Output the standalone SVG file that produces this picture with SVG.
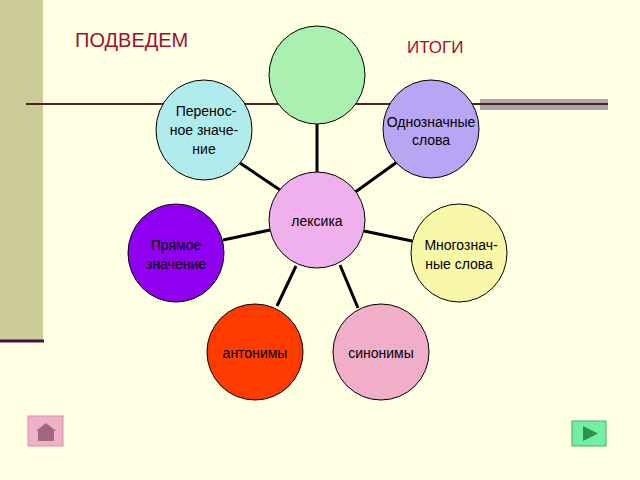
<svg xmlns="http://www.w3.org/2000/svg" width="640" height="480" viewBox="0 0 640 480">
<style>
.n{stroke:#000;stroke-width:1}
.t{font-family:"Liberation Sans",Arial,sans-serif;font-size:14px;fill:#000;text-anchor:middle}
.c line{stroke:#000;stroke-width:3}
</style>
<rect width="640" height="480" fill="#ffffe4"/>
<rect x="0" y="0" width="43" height="340" fill="#cccc99"/>
<line x1="0" y1="341" x2="44" y2="341" stroke="#4a1040" stroke-width="3"/>
<rect x="480" y="99" width="128" height="11" fill="#a8a8a8"/>
<line x1="26" y1="104" x2="608" y2="104" stroke="#5a1a2a" stroke-width="2"/>
<text x="75" y="47" font-family="Liberation Sans,Arial,sans-serif" font-size="20" fill="#a01030">ПОДВЕДЕМ</text>
<text x="407" y="53" font-family="Liberation Sans,Arial,sans-serif" font-size="17" fill="#a01030">ИТОГИ</text>
<g class="c">
<line x1="317" y1="124" x2="317" y2="173"/>
<line x1="240" y1="163" x2="283" y2="192"/>
<line x1="397" y1="162" x2="354" y2="193"/>
<line x1="223" y1="240" x2="270" y2="230"/>
<line x1="412" y1="241" x2="364" y2="231"/>
<line x1="277" y1="306" x2="296" y2="266"/>
<line x1="358" y1="308" x2="340" y2="265"/>
</g>
<g id="top"><ellipse class="n" cx="317" cy="75" rx="48" ry="49" fill="#aaf0b0"/></g>
<g id="perenos"><ellipse class="n" cx="204" cy="130" rx="48" ry="50" fill="#b0ecec"/>
<text class="t" x="206" y="116">Перенос-</text><text class="t" x="204" y="135">ное значе-</text><text class="t" x="204" y="154">ние</text></g>
<g id="odno"><ellipse class="n" cx="431" cy="129" rx="48" ry="49" fill="#b8a6f4"/>
<text class="t" x="431" y="127">Однозначные</text><text class="t" x="431" y="145">слова</text></g>
<g id="leks"><ellipse class="n" cx="317" cy="220" rx="48" ry="48" fill="#f0b0ee"/>
<text class="t" x="317" y="226">лексика</text></g>
<g id="pryam"><ellipse class="n" cx="176" cy="253" rx="48" ry="49" fill="#9000f0"/>
<text class="t" x="176" y="250">Прямое</text><text class="t" x="176" y="269">значение</text></g>
<g id="mnogo"><ellipse class="n" cx="459" cy="253" rx="48" ry="49" fill="#f8f8a8"/>
<text class="t" x="461" y="250">Многознач-</text><text class="t" x="459" y="269">ные слова</text></g>
<g id="anton"><ellipse class="n" cx="255" cy="352" rx="48" ry="48" fill="#ff3c00"/>
<text class="t" x="255" y="358">антонимы</text></g>
<g id="sinon"><ellipse class="n" cx="381" cy="352" rx="48" ry="48" fill="#f0aec8"/>
<text class="t" x="381" y="358">синонимы</text></g>
<g id="home"><rect x="28" y="416" width="35" height="30" fill="#f0b0c8" stroke="#d890a8"/>
<polygon points="36,431 46,423 56,431" fill="#a06880"/><rect x="38" y="431" width="16" height="10" fill="#a06880"/></g>
<g id="next"><rect x="572" y="421" width="34" height="25" fill="#70f0a0" stroke="#40b070"/>
<polygon points="583,426 583,441 598,433.5" fill="#309050"/></g>
</svg>
